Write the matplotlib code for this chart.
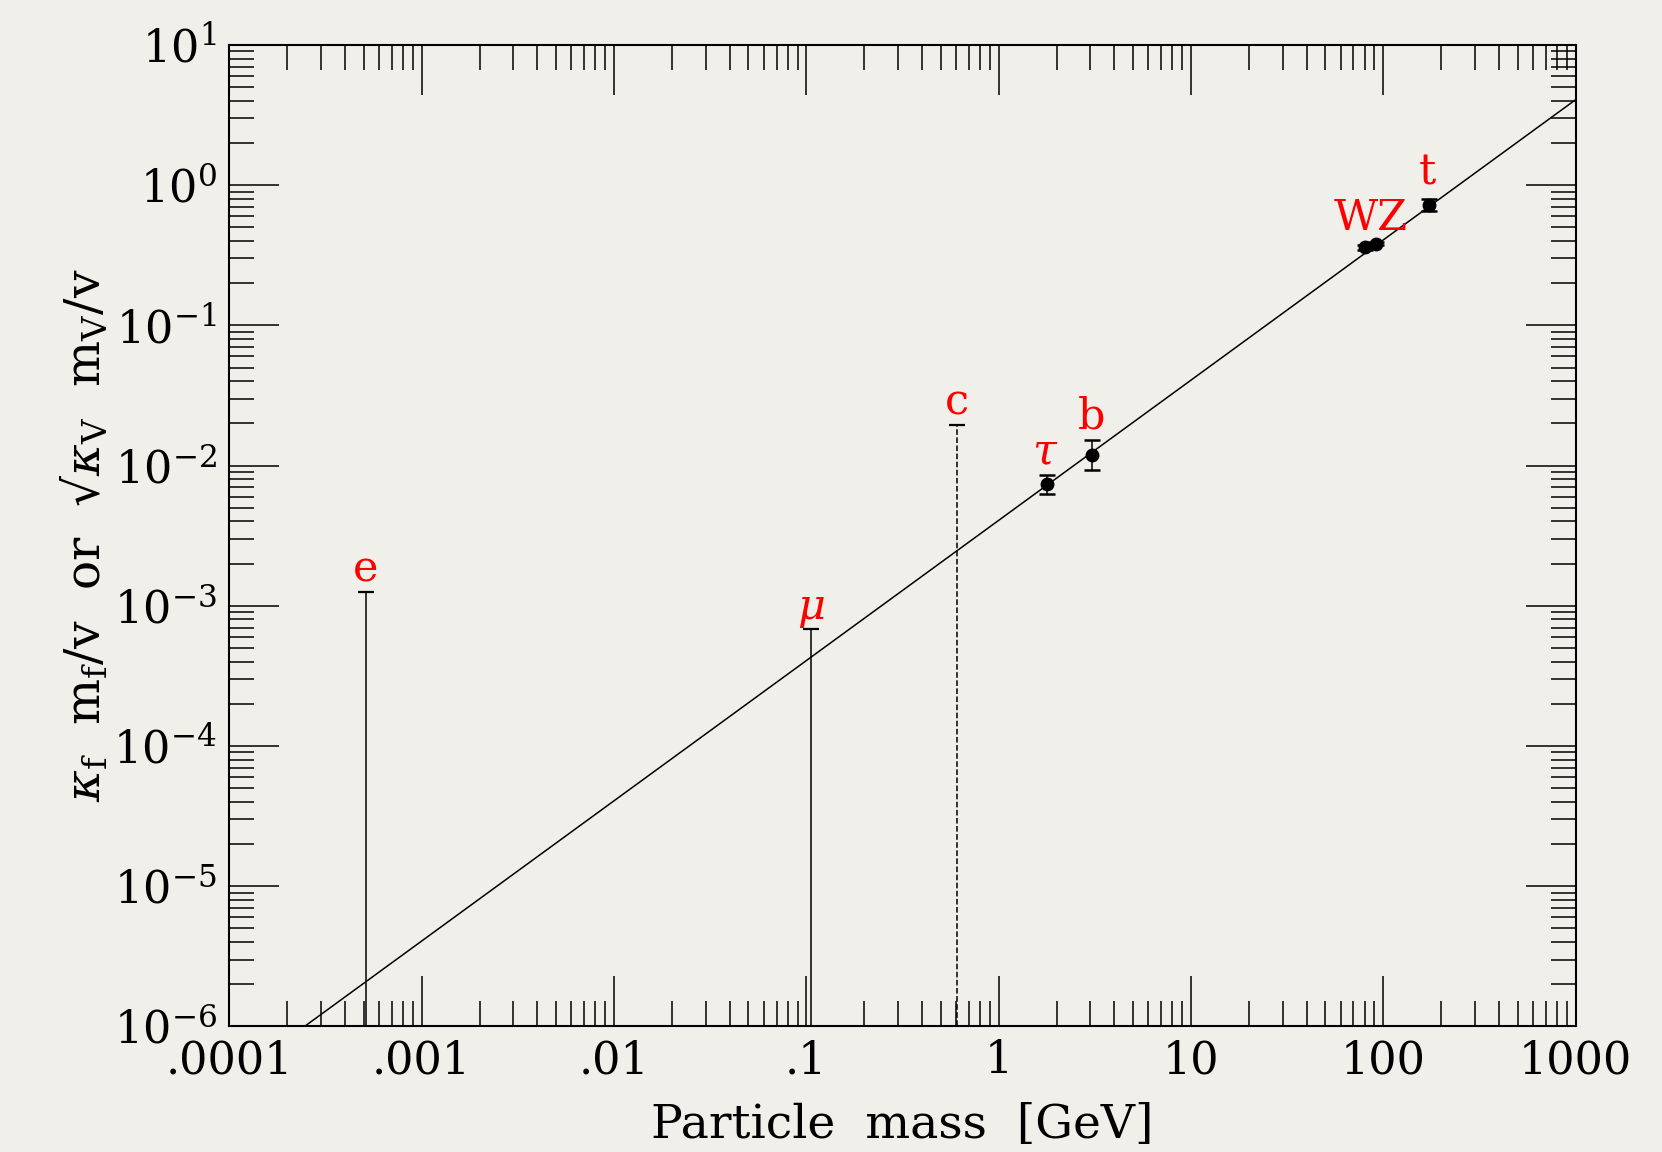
import numpy as np
import matplotlib.pyplot as plt
from matplotlib.ticker import LogLocator, FixedLocator, FixedFormatter, NullFormatter

plt.rcParams['font.family'] = ['DejaVu Serif']
plt.rcParams['mathtext.fontset'] = 'dejavuserif'

# Higgs vacuum expectation value (GeV) and the straight line m/v
vev = 246.0
line_mass = [1e-4, 1e3]

# measured points with error bars (tau, b, W, Z, t)
pt_names = ['τ', 'b', 'W', 'Z', 't']
pt_mass = [1.777, 3.05, 80.4, 91.2, 173.0]
pt_val = [7.4e-3, 0.0118, 0.364, 0.380, 0.716]
pt_lo = [6.3e-3, 9.3e-3, 0.345, 0.372, 0.65]
pt_hi = [8.6e-3, 0.0151, 0.374, 0.390, 0.79]

# upper limits (e, mu solid; c dashed)
lim_names = ['e', 'μ', 'c']
lim_mass = [0.000511, 0.1057, 0.605]
lim_top = [1.26e-3, 6.8e-4, 0.0196]
lim_style = ['-', '-', '--']

xtick_vals = [1e-4, 1e-3, 1e-2, 1e-1, 1, 10, 100, 1000]
xtick_labels = ['.0001', '.001', '.01', '.1', '1', '10', '100', '1000']

fig = plt.figure(figsize=(16.62, 11.52), dpi=100)
fig.patch.set_facecolor('#f1efea')
ax = fig.add_axes([0.138, 0.109, 0.81, 0.852])
ax.set_facecolor('#f1efea')
ax.set_xscale('log')
ax.set_yscale('log')
ax.set_xlim(1e-4, 1e3)
ax.set_ylim(1e-6, 1e1)

lm = np.array(line_mass)
ax.plot(lm, lm / vev, color='black', lw=1.1)

for m, top, ls in zip(lim_mass, lim_top, lim_style):
    ax.vlines(m, 1e-6, top, colors='black', linestyles=ls, lw=1.1)
    ax.plot([m], [top], marker='_', color='black', ms=11, mew=1.6)

val = np.array(pt_val)
yerr = [val - np.array(pt_lo), np.array(pt_hi) - val]
ax.errorbar(pt_mass, pt_val, yerr=yerr, fmt='o', color='black', ms=9,
            capsize=6, capthick=1.8, elinewidth=1.1)

# red particle labels
for name, m, top in zip(lim_names, lim_mass, lim_top):
    style = 'italic' if name == 'μ' else 'normal'
    ax.annotate(name, (m, top), xytext=(0, 1), textcoords='offset points',
                ha='center', va='bottom', color='red', fontsize=31, style=style)
ax.annotate('τ', (pt_mass[0], pt_hi[0]), xytext=(-2, 2), textcoords='offset points',
            ha='center', va='bottom', color='red', fontsize=31, style='italic')
ax.annotate('b', (pt_mass[1], pt_hi[1]), xytext=(0, 2), textcoords='offset points',
            ha='center', va='bottom', color='red', fontsize=31)
ax.annotate('WZ', (pt_mass[2], pt_hi[2]), xytext=(4, 4), textcoords='offset points',
            ha='center', va='bottom', color='red', fontsize=31)
ax.annotate('t', (pt_mass[4], pt_hi[4]), xytext=(-1, 4), textcoords='offset points',
            ha='center', va='bottom', color='red', fontsize=31)

ax.xaxis.set_major_locator(FixedLocator(xtick_vals))
ax.xaxis.set_major_formatter(FixedFormatter(xtick_labels))
ax.xaxis.set_minor_locator(LogLocator(base=10, subs=np.arange(2, 10), numticks=20))
ax.xaxis.set_minor_formatter(NullFormatter())
ax.yaxis.set_major_locator(LogLocator(base=10, numticks=20))
ax.yaxis.set_minor_locator(LogLocator(base=10, subs=np.arange(2, 10), numticks=20))
ax.yaxis.set_minor_formatter(NullFormatter())

ax.tick_params(which='both', direction='in', top=True, right=True, width=1.1)
ax.tick_params(which='major', length=36, labelsize=32, pad=9)
ax.tick_params(which='minor', length=18)
for s in ax.spines.values():
    s.set_linewidth(1.5)

ax.set_xlabel('Particle  mass  [GeV]', fontsize=34)
ax.xaxis.set_label_coords(0.5, -0.078)
ax.set_ylabel(r'$\kappa_\mathrm{f}$  m$_\mathrm{f}$/v  or  √$\kappa_\mathrm{V}$  m$_\mathrm{V}$/v', fontsize=35)
ax.yaxis.set_label_coords(-0.088, 0.5)

fig.savefig('out.png', dpi=100, facecolor=fig.get_facecolor())
